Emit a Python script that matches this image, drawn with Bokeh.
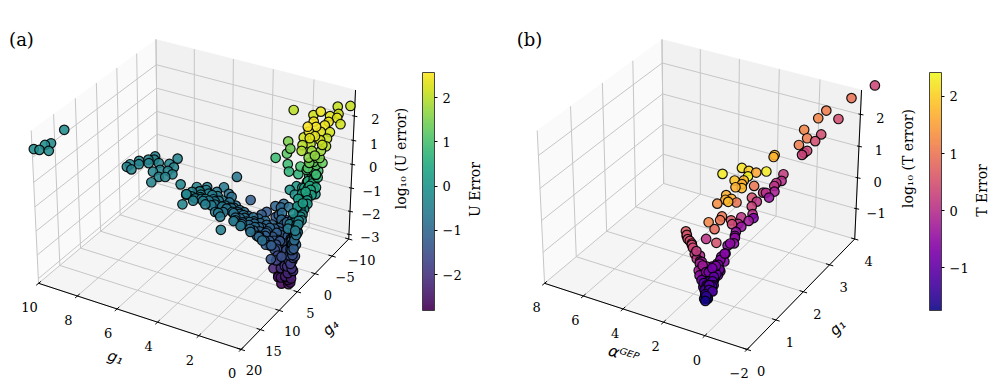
from math import cos, sin, radians, pi
import numpy as np
from bokeh.plotting import figure
from bokeh.models import ColumnDataSource, LinearColorMapper, ColorBar, FixedTicker, Range1d
from bokeh.palettes import Viridis256, Plasma256
from bokeh.transform import transform
from bokeh.core.properties import value
from bokeh.embed import file_html
from bokeh.resources import INLINE

# ---------- panel (a) data ----------
u_g1 = [2.54,.47,.92,1.05,1.38,.49,.62,.28,0,.34,
        .34,.8,.76,.5,.67,.32,.07,.02,.31,.82,
        .47,.11,1.92,1.64,1.76,2.3,.75,.65,.49,-.06,
        -.06,.37,.04,.17,.41,.09,-.02,1.59,1.44,.93,
        .99,.37,.22,.56,.13,.6,.73,.28,1.34,1.14,
        .78,.2,1.06,.67,.13,.3,.49,.15,.32,.39,
        .19,.47,.45,.09,.02,.22,.13,.2,.28,.3,
        .47,.88,.99,.43,.64,.41,
        .1,.2,.1,.2,.05,.15,.1,.05,.2,.1,
        .02,.15,.05,.1,0,.1,.05,.2,.1,.25,
        .15,.3,.2,.35,.3,.45,.25,.4,.3,.5,.35,
        2.54,3.54,1.99,1.68,1.9,.96,1.12,1.88,2.76,1.68,
        2.29,2.74,3.64,4.37,5.02,5.95,5.33,5.31,
        5.23,5.0,4.86,4.6,5.03,4.7,4.39,4.12,4.2,3.77,
        3.43,3.58,3.11,3.0,2.81,2.53,2.26,2.51,2.11,1.94,
        1.92,1.55,1.57,1.49,1.13,1.19,1.11,.9,1.09,.82,.66,
        5.04,4.5,4.57,4.88,4.6,3.79,3.41,4.23,4.0,3.48,
        2.53,1.73,2.26,1.94,1.43,1.86,1.21,1.55,
        8.91,8.61,8.91,8.72,8.57,8.42,8.24,8.31,8.2,7.86,
        7.68,7.49,7.34,7.41,7.08,7.15,6.82,7.22,6.97,7.26,
        12.96,12.77,12.92,13.14,12.88,12.47,4.55,
        3.3,3.0,2.85,2.7,2.6,2.4,2.3,2.2,2.05,2.0,
        1.85,1.8,1.7,1.6,1.5,1.4,1.3,1.25,1.1,1.05,
        1.0,.9,.8,.75,.7,.6,.6,.5,.55,.45,.6,.7,
        1.6,1.3,1.0,1.4,1.1,.9,.7,.7,
        .3,.35,.4,.3,.4,.3,.35,.25,.35,.25,
        .3,.25,.35,.3,.4,.45,.3,.5,.35,.55,
        .25,.2,.45,.3,.5,.25,
        5.1,4.9,4.75,4.5,4.45,4.3,4.25,4.0,3.95,3.7,
        3.6,5.3,5.4,4.9,3.4,
        .15,.25,.05,.3,.15,0,.25,.1,.2,0,
        .15,.05,.2,0,.1,.15,0,.05,.15,0,
        .05,.1,.05,.15,.1,.2,.05,.2,.1,.15,
        2.4,2.2,2.0,1.9,1.75,1.55,1.4,1.2,1.2,1.0,
        .9,.85,.65,.55,.5,.4,.45,.4,.4,.5,
        3.2,3.1,2.9,2.95,2.65,3.5,3.8,4.1]
u_g4 = [-7.6,-11.7,-10.7,-6.5,-6.4,-8.3,-6.6,-6.6,-5.9,-4.5,
        -3.4,-3,-1.1,-1.9,-.9,-2.2,-3.3,-2.2,-.5,-.4,
        0,-.8,-2.6,-1.6,-1.4,-1.4,.3,1.1,-.4,-.4,
        -1.5,-.1,-.7,.2,.5,-.7,-.9,-.7,-.2,-.4,
        -.2,.5,-.6,0,-.1,-1,-1.2,-.4,0,-.7,
        -.2,0,.2,-.1,-.1,1.7,2.6,3.3,3.8,4.5,
        3.7,4.9,5.5,4.7,6,5.7,6.2,6.3,6.4,6.6,
        6.8,5.3,6.1,7.2,8.9,6,
        6.5,6.6,6.4,6.7,6.5,6.3,6.6,6.2,6.4,6.1,
        6.3,5.9,6.0,5.6,5.8,5.2,5.0,4.6,4.2,3.6,
        3.0,2.4,1.8,1.0,.6,.2,-.2,-.5,-.3,.1,-.6,
        -.6,-1.7,0,.9,-.9,7,8.6,7.5,10.5,6.9,
        7.9,7.3,6.5,6,8.5,4.2,3.2,6,
        5.1,5.3,4.7,5.4,4,3.4,3.8,3.8,5.3,3.9,
        4.1,5.5,4,5.4,4.3,5,4.5,6.4,6.4,4.9,
        3.7,5.2,7,3.9,5.3,7.2,4.1,5.8,3.3,5.1,7.3,
        2,.4,1.9,6.5,4.8,6.5,7.2,.5,1,2.7,
        .9,-1.6,-1.4,-1.9,-.4,-.1,2.1,.8,
        3.2,3.5,2.4,1,1.8,.1,.9,-1.1,-.3,.2,
        2.6,1.7,-2.1,-.3,.2,1.4,1.9,3.4,3,5.1,
        -.2,3.9,4.7,6.4,6.2,5.8,-3.4,
        4.6,4.3,5.0,4.6,5.7,4.9,5.6,4.7,5.4,6.0,
        4.6,5.5,6.2,4.5,5.6,6.4,4.8,5.9,6.6,4.6,
        5.5,6.4,4.5,5.6,6.7,5.2,6.3,5.7,6.6,6.2,5.8,6.4,
        3.2,3.0,3.0,1.8,2.0,1.6,2.9,4.0,
        6.0,6.4,5.9,6.2,5.7,5.9,5.5,5.8,5.2,5.4,
        4.9,4.6,4.0,3.4,2.7,2.0,1.4,1.5,.8,.6,
        .2,-.3,-.4,-.9,-.5,-.8,
        3.8,4.4,5.0,3.5,4.7,3.1,4.2,3.5,4.6,3.2,
        4.5,4.6,5.6,3.0,3.6,
        6.7,6.5,6.6,6.8,6.2,6.4,6.6,6.1,6.5,6.0,
        6.1,6.4,5.7,5.8,5.9,5.5,5.4,5.3,4.9,4.4,
        3.9,3.2,2.6,2.1,1.2,.9,.3,-.1,-.4,-.8,
        3.9,3.6,4.2,3.4,3.9,4.1,3.7,4.2,3.5,3.9,
        5.0,3.6,4.6,4.0,5.2,4.6,5.9,5.3,6.4,6.8,
        4.8,3.7,3.6,5.7,3.9,4.0,4.6,4.9]
u_z = [2.0,2.1,2.1,2.4,2.2,2.2,2.3,2.3,2.2,2.4,
       2.4,2.5,2.55,2.5,2.4,2.3,2.2,2.1,2.35,2.2,
       2.3,2.2,1.5,1.4,1.2,.9,2.0,1.9,2.0,2.1,
       1.9,1.8,1.8,1.7,1.6,1.5,1.3,.9,.7,1.0,
       .7,1.4,1.2,1.0,.9,.6,.3,.5,0,.1,
       .2,.3,-.1,0,.1,.4,.2,.2,.1,-.1,
       0,-.5,-.6,-.3,-.5,-1.0,-1.3,-1.7,-2.1,-2.4,
       -2.7,-2.7,-2.3,-1.5,-1.4,-1.4,
       -2.6,-2.5,-2.3,-2.2,-2.0,-1.9,-1.8,-1.6,-1.5,-1.3,
       -1.2,-1.1,-.9,-.8,-.7,-.5,-.4,-.3,-.2,-.1,
       0,.1,.2,.3,.5,.6,.7,.8,1.0,1.1,1.3,
       -1.3,-1.2,-1.3,-1.5,-1.0,-1.2,-.8,-.8,-.5,-1,
       -.6,-.6,-.6,-.5,-.3,-.3,-.4,-.3,
       -.5,-.5,-.5,-.5,-.4,-.5,-.6,-.6,-.6,-.7,
       -.7,-.7,-.8,-.8,-.8,-.9,-.9,-.8,-.9,-1.0,
       -1.1,-1.1,-1.0,-1.2,-1.3,-1.2,-1.4,-1.5,-1.3,-1.5,-1.7,
       -.5,-.6,-.6,-.4,-.5,-.6,-.6,-.8,-.8,-.8,
       -1.2,-1.6,-1.1,-1.0,-.8,-1.2,-1.1,-.9,
       -.4,-.4,-.4,-.4,-.4,-.4,-.4,-.4,-.4,-.4,
       -.4,-.4,-.4,-.4,-.4,-.4,-.4,-.4,-.4,-.4,
       -.2,-.2,-.2,-.2,-.2,-.2,-.7,
       -.75,-.8,-.85,-.85,-.85,-.9,-.9,-.95,-.95,-1.0,
       -1.05,-1.05,-1.1,-1.15,-1.15,-1.2,-1.25,-1.25,-1.3,-1.35,
       -1.4,-1.45,-1.45,-1.55,-1.6,-1.7,-1.85,-1.95,-2.1,-2.25,-2.4,-2.55,
       -1.05,-1.15,-1.2,-1.0,-1.0,-.9,-.95,-1.2,
       -2.6,-2.45,-2.3,-2.05,-1.85,-1.65,-1.45,-1.35,-1.15,-.95,
       -.75,-.6,-.4,-.25,-.1,.05,.15,.25,.4,.35,
       .55,.85,.95,1.15,1.25,1.45,
       -.45,-.45,-.5,-.5,-.55,-.55,-.6,-.6,-.65,-.65,
       -.7,-.4,-.4,-.45,-.75,
       -2.65,-2.55,-2.4,-2.35,-2.15,-2.1,-1.95,-1.75,-1.7,-1.55,
       -1.4,-1.45,-1.25,-1.1,-1.0,-.85,-.65,-.6,-.45,-.3,
       -.15,-.05,.1,.15,.25,.4,.45,.6,.75,.95,
       -.85,-.9,-.95,-.95,-1.0,-1.05,-1.1,-1.15,-1.2,-1.25,
       -1.3,-1.3,-1.4,-1.25,-1.5,-1.35,-1.7,-1.6,-2.0,-2.45,
       -.75,-.75,-.8,-.85,-.85,-.7,-.65,-.6]

# ---------- panel (b) data ----------
t_alpha = [-2.22,-1.53,-.77,-.58,-1.34,-.22,-.45,-.92,-.79,-.24,
           -.63,-.54,-.49,.52,.53,.59,.95,-.08,-.1,.06,
           .09,.3,.41,.01,.12,.75,.51,.84,.63,.49,
           .4,.86,.54,2.17,1.54,1.24,1.2,1.63,1.29,1.31,
           1.5,1.26,1.73,1.56,1.7,1.94,1.25,1.49,1.58,1.6,
           1.19,1.1,1.99,1.67,1.84,1.41,.88,.73,.85,.83,
           .76,.96,.93,1.04,.86,1.09,1.24,.87,1.07,.97,
           .91,1.0,2.69,2.59,2.41,2.2,2.05,1.84,1.68,1.67,
           1.53,1.31,1.57,1.31,1.18,1.03,1.0,1.12,.91,1.59,
           1.43,1.13,1.17,1.14,1.19,.9,1.73,1.91,2.28,2.51,
           1.09,.96,1.07,.98,1.01,1.4,1.04,
           1.2,1.1,1.35,1.45,1.25,1.0,1.15,.95,1.05,1.3,
           .9,1.1,.95,1.15,1.55,2.0,2.3,2.6,1.0,.9,.85,.8,
           1.15,1.05,1.25,1.4,1.0,.95,1.2,1.35,1.05,.85,1.0,1.1,1.45,1.75,1.0]
t_g1 = [4.35,4.01,3.66,3.51,3.68,3.27,3.21,3.37,3.25,3.07,
        3.08,3.04,3.0,2.76,2.73,2.52,2.42,2.64,2.56,2.49,
        2.44,2.3,2.28,2.39,2.28,2.13,2.13,2.27,2.04,1.97,
        1.94,1.84,1.87,2.11,2.34,2.37,2.31,2.15,2.23,2.18,
        2.09,2.14,1.93,1.88,1.88,1.77,1.95,1.94,1.68,1.63,
        1.72,1.69,1.51,1.49,1.32,1.37,1.75,1.75,1.65,1.6,
        1.52,1.44,1.35,1.28,1.26,1.18,1.1,1.13,1.05,1.01,
        .93,.85,1.22,1.18,1.16,1.12,1.08,1.11,1.06,.95,
        1.02,.97,.91,.87,.81,.76,.71,.87,.86,.99,
        .88,.95,.87,1.1,1.0,1.07,1.03,1.05,1.14,1.16,
        .77,.76,.91,.98,1.16,1.0,.96,
        .9,.95,.92,.97,1.0,1.0,1.05,.9,.8,.85,
        1.12,.78,.76,.82,1.0,1.1,1.15,1.19,1.22,1.3,1.45,1.58,
        .85,.88,.93,.95,.95,1.05,1.05,.98,1.1,.85,.84,.74,1.05,1.05,1.15]
t_z = [2.68,2.42,2.16,2.0,1.98,1.76,1.58,1.66,1.52,1.44,
       1.32,1.27,1.23,1.23,1.19,.89,.87,.83,.69,.65,
       .59,.45,.45,.47,.35,.35,.27,.59,.17,.01,
       -.07,-.05,-.13,.85,.97,.91,.79,.71,.71,.63,
       .57,.55,.41,.27,.31,.23,.25,.33,-.03,-.11,
       -.11,-.19,-.15,-.29,-.49,-.57,-.19,-.25,-.35,-.43,
       -.59,-.63,-.8,-.86,-.96,-1.0,-1.06,-1.16,-1.2,-1.3,
       -1.44,-1.54,-.33,-.43,-.53,-.67,-.8,-.84,-.96,-1.14,
       -1.08,-1.24,-1.24,-1.4,-1.54,-1.66,-1.76,-1.46,-1.56,-1.1,
       -1.34,-1.34,-1.44,-1.1,-1.24,-1.24,-1.0,-.9,-.61,-.49,
       -1.62,-1.7,-1.42,-1.34,-1.06,-1.16,-1.36,
       -1.5,-1.35,-1.3,-1.2,-1.15,-1.25,-1.05,-1.45,-1.6,-1.5,
       -1.1,-1.68,-1.72,-1.6,-1.0,-.72,-.58,-.4,-.9,-.75,-.55,-.47,
       -1.52,-1.42,-1.38,-1.28,-1.35,-1.2,-1.12,-1.15,-1.0,-1.55,-1.52,-1.74,-1.05,-.95,-1.0]
t_c = [.35,.95,1.1,1.2,.45,1.2,1.1,.45,.45,1.1,
       .35,.35,.3,1.8,1.7,2.3,1.6,.2,0,.1,
       .1,0,.2,-.2,-.4,.5,.1,1.0,.3,0,
       -.7,.1,-.3,2.3,2.2,2.0,2.35,1.9,1.8,1.7,
       1.7,1.8,1.7,1.8,1.7,1.3,1.0,1.7,1.0,1.0,
       .6,.4,1.2,.85,.05,.5,.1,-.4,-.5,-.5,
       -.5,-.6,-.6,-.6,-.6,-.5,-.9,-.8,-.9,-1.0,
       -1.2,-1.3,.65,.5,.5,.4,.3,-.1,-.3,-.2,
       -.1,-.4,-.5,-1.1,-1.2,-1.5,-1.7,-1.2,-1.1,-.4,
       -.9,-1.0,-1.2,-.9,-.9,-.8,-.2,.1,.4,.5,
       -1.4,-1.6,-1.1,-1.0,-.7,-.5,-1.1,
       -1.2,-1.0,-.9,-.6,-.8,-1.0,-.8,-1.2,-1.4,-1.2,
       -.8,-1.6,-1.6,-1.4,-.3,.2,.45,.55,-.6,-.6,-.5,-.5,
       -1.3,-1.1,-1.0,-.7,-1.1,-.9,-.8,-.5,-.7,-1.2,-1.3,-1.7,-.3,-.1,-.7]

# ---------- axes description ----------
a_xlim, a_ylim, a_zlim = (0, 10), (-10, 20), (-3.2, 3.06)
b_xlim, b_ylim, b_zlim = (-2, 8), (4, 0), (-2.0, 2.75)
a_xticks = [0, 2, 4, 6, 8, 10]
a_yticks = [-10, -5, 0, 5, 10, 15, 20]
a_zticks = [-3, -2, -1, 0, 1, 2]
b_xticks = [-2, 0, 2, 4, 6, 8]
b_yticks = [0, 1, 2, 3, 4]
b_zticks = [-1, 0, 1, 2]
a_cticks = [-2, -1, 0, 1, 2]
b_cticks = [-1, 0, 1, 2]
a_crange = (-2.81, 2.565)
b_crange = (-1.75, 2.42)

ELEV, AZIM, DIST = radians(30), radians(120), 10.0
SCALE = 1950.0
BOX = np.array([1.19, 1.19, 0.893])
E = np.array([cos(ELEV) * cos(AZIM), cos(ELEV) * sin(AZIM), sin(ELEV)])
U = np.array([-sin(AZIM), cos(AZIM), 0.0])
V = np.cross(E, U)


class View:
    def __init__(self, xl, yl, zl, cx, cy):
        self.xl, self.yl, self.zl, self.cx, self.cy = xl, yl, zl, cx, cy

    def _box(self, x, y, z):
        x, y, z = np.asarray(x, float), np.asarray(y, float), np.asarray(z, float)
        return np.stack([(x - self.xl[0]) / (self.xl[1] - self.xl[0]) * BOX[0] - BOX[0] / 2,
                         (y - self.yl[0]) / (self.yl[1] - self.yl[0]) * BOX[1] - BOX[1] / 2,
                         (z - self.zl[0]) / (self.zl[1] - self.zl[0]) * BOX[2] - BOX[2] / 2], axis=-1)

    def proj(self, x, y, z):
        p = self._box(x, y, z)
        d = DIST - p @ E
        return self.cx + SCALE * (p @ U) / d, self.cy - SCALE * (p @ V) / d

    def depth(self, x, y, z):
        return DIST - self._box(x, y, z) @ E


p = figure(width=997, height=391, x_range=Range1d(0, 997), y_range=Range1d(391, 0),
           toolbar_location=None, output_backend="svg", x_axis_type=None, y_axis_type=None,
           min_border=0, outline_line_color=None, background_fill_color="white")
p.grid.visible = False

SERIF = value("DejaVu Serif")
GRID = "#c6c6c6"


def fmt(v):
    return str(v).replace("-", "\u2212")


def draw_panel(view, xt, yt, zt, xs, ys, zs, cs, mapper, xlab_off, ylab_off, zlab_off):
    x0, x1 = view.xl
    yfar, ynear = view.yl[0], view.yl[1]
    z0, z1 = view.zl

    def pane(pts, col):
        sx, sy = view.proj(*zip(*pts))
        p.patch(list(sx), list(sy), fill_color=col, line_color=col, line_width=0.5)
    pane([(x1, yfar, z0), (x1, ynear, z0), (x1, ynear, z1), (x1, yfar, z1)], "#fafafa")
    pane([(x0, yfar, z0), (x1, yfar, z0), (x1, yfar, z1), (x0, yfar, z1)], "#f1f1f1")
    pane([(x0, yfar, z0), (x1, yfar, z0), (x1, ynear, z0), (x0, ynear, z0)], "#f5f5f5")
    gx, gy = [], []

    def seg(a, b):
        sx, sy = view.proj(*zip(a, b))
        gx.append(list(sx))
        gy.append(list(sy))
    for t in xt:
        seg((t, yfar, z0), (t, ynear, z0))
        seg((t, yfar, z0), (t, yfar, z1))
    for t in yt:
        seg((x0, t, z0), (x1, t, z0))
        seg((x1, t, z0), (x1, t, z1))
    for t in zt:
        seg((x0, yfar, t), (x1, yfar, t))
        seg((x1, yfar, t), (x1, ynear, t))
    p.multi_line(gx, gy, line_color=GRID, line_width=1)
    ax, ay = [], []

    def aseg(a, b):
        sx, sy = view.proj(*zip(a, b))
        ax.append(list(sx))
        ay.append(list(sy))
    aseg((x0, ynear, z0), (x1, ynear, z0))
    aseg((x0, ynear, z0), (x0, yfar, z0))
    aseg((x0, yfar, z0), (x0, yfar, z1))
    dy = (ynear - yfar) * 0.018
    dx = (x1 - x0) * 0.018
    lx, ly, lt = [], [], []

    def lab(sx, sy, off, t):
        lx.append(float(sx) + off[0])
        ly.append(float(sy) + off[1])
        lt.append(fmt(t))
    for t in xt:
        aseg((t, ynear - dy, z0), (t, ynear + dy, z0))
        lab(*view.proj(t, ynear, z0), xlab_off, t)
    for t in yt:
        aseg((x0 + dx, t, z0), (x0 - dx, t, z0))
        lab(*view.proj(x0, t, z0), ylab_off, t)
    for t in zt:
        sx, sy = view.proj(x0, yfar, t)
        ax.append([float(sx) - 2, float(sx) + 3])
        ay.append([float(sy) - 0.5, float(sy) + 0.5])
        lab(sx, sy, zlab_off, t)
    p.multi_line(ax, ay, line_color="black", line_width=1)
    p.text(lx, ly, text=lt, text_font=SERIF, text_font_size="13px",
           text_align="center", text_baseline="middle", text_color="black")
    sx, sy = view.proj(xs, ys, zs)
    order = np.argsort(-view.depth(xs, ys, zs))
    src = ColumnDataSource(dict(x=sx[order], y=sy[order], c=np.asarray(cs, float)[order]))
    p.scatter("x", "y", source=src, size=9.5, fill_color=transform("c", mapper), fill_alpha=0.88,
              line_color="black", line_alpha=0.9, line_width=1.2)


map_a = LinearColorMapper(palette=Viridis256, low=a_crange[0], high=a_crange[1])
map_b = LinearColorMapper(palette=Plasma256, low=b_crange[0], high=b_crange[1])

draw_panel(View(a_xlim, a_ylim, a_zlim, 196, 186.5), a_xticks, a_yticks, a_zticks,
           u_g1, u_g4, u_z, u_z, map_a, (-9, 24), (13, 21), (21, 3))
draw_panel(View(b_xlim, b_ylim, b_zlim, 702, 186.5), b_xticks, b_yticks, b_zticks,
           t_alpha, t_g1, t_z, t_c, map_b, (-8, 24), (14, 22), (20, 4))


def colorbar(mapper, ticks, left):
    cb = ColorBar(color_mapper=mapper, ticker=FixedTicker(ticks=ticks), location=(left, 81),
                  width=12, height=238, padding=0, margin=0, scale_alpha=0.9,
                  major_label_text_font="DejaVu Serif", major_label_text_font_size="13px",
                  major_label_text_color="black",
                  major_tick_in=0, major_tick_out=3, major_tick_line_color="black",
                  minor_tick_line_color=None, bar_line_color="#333333", bar_line_width=1,
                  label_standoff=5, background_fill_color=None, border_line_color=None)
    cb.major_label_overrides = {t: fmt(t) for t in ticks}
    p.add_layout(cb)


colorbar(map_a, a_cticks, 422)
colorbar(map_b, b_cticks, 929)


def txt(x, y, s, size="14px", angle=0.0, font=SERIF, style="normal"):
    p.text([x], [y], text=[s], text_font=font, text_font_size=size, angle=[radians(angle)],
           text_align="center", text_baseline="middle", text_font_style=style, text_color="black")


SANS = value("DejaVu Sans")
txt(21, 39, "(a)", "18px")
txt(529, 39, "(b)", "18px")
txt(115, 357, "g\u2081", "15px", -18, SANS, "italic")
txt(330, 327, "g\u2084", "15px", 45, SANS, "italic")
txt(400, 158, "log\u2081\u2080 (U error)", "14px", 90)
txt(474, 189, "U Error", "14px", 90)
txt(623, 354, "\u03b1\u1d33\u1d31\u1d3e", "16px", -18, SANS, "italic")
txt(837, 327, "g\u2081", "15px", 45, SANS, "italic")
txt(907, 158, "log\u2081\u2080 (T error)", "14px", 90)
txt(981, 190, "T Error", "14px", 90)

open("out.html", "w").write(file_html(p, INLINE))
